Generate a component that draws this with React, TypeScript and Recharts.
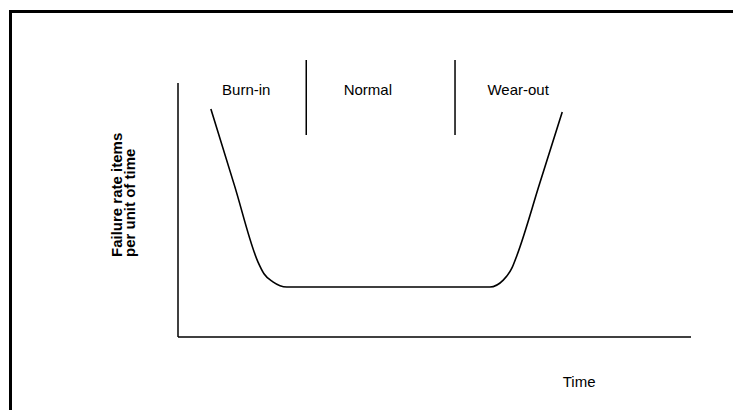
import { LineChart, Line, XAxis, YAxis, ReferenceLine, ReferenceDot } from "recharts";

// bathtub curve (time and rate both on a 0-100 scale)
const TIME = [6.4, 11.0, 15.6, 16.8, 18.5, 21.2, 60.8, 63.4, 65.1, 66.1, 70.5, 74.9];
const FAILURE_RATE = [89.8, 59.7, 29.5, 24.8, 21.7, 19.7, 19.7, 22.4, 27.2, 32.3, 60.4, 88.6];

const PHASES = ["Burn-in", "Normal", "Wear-out"];
const PHASE_CENTERS = [13.3, 37.0, 66.3];
const PHASE_LABEL_Y = 97.4;
const PHASE_BOUNDS = [25, 54];
const BOUND_SPAN = [79.5, 109.1];

const data = TIME.map((t, i) => ({ t, rate: FAILURE_RATE[i] }));

const FONT = '"Liberation Sans", Arial, sans-serif';

function RateLabel({ viewBox }: any) {
  const bx = viewBox.x + viewBox.width - 56;
  const by = viewBox.y + viewBox.height - 80;
  return (
    <text
      transform={`rotate(-90 ${bx} ${by})`}
      x={bx}
      y={by}
      fontFamily={FONT}
      fontSize={15}
      fontWeight="bold"
      fill="#000"
      textAnchor="start"
    >
      <tspan x={bx} y={by}>Failure rate items</tspan>
      <tspan x={bx} dy={13}>per unit of time</tspan>
    </text>
  );
}

function TimeLabel({ viewBox }: any) {
  return (
    <text
      x={viewBox.x + viewBox.width * 0.782}
      y={viewBox.y + 50}
      fontFamily={FONT}
      fontSize={15}
      fill="#000"
      textAnchor="middle"
    >
      Time
    </text>
  );
}

export default function App() {
  return (
    <div style={{ position: "relative", width: 741, height: 410, margin: "-8px 0 0 -8px", background: "#fff" }}>
      <div
        style={{
          position: "absolute",
          left: 9,
          top: 10,
          right: 0,
          bottom: 0,
          borderLeft: "3px solid #000",
          borderTop: "3px solid #000",
        }}
      />
      <LineChart
        width={741}
        height={410}
        data={data}
        margin={{ top: 83, right: 50, bottom: 43, left: 118 }}
        style={{ position: "absolute", left: 0, top: 0 }}
      >
        <XAxis
          type="number"
          dataKey="t"
          domain={[0, 100]}
          height={30}
          tick={false}
          tickLine={false}
          axisLine={{ stroke: "#000", strokeWidth: 1.5 }}
          label={<TimeLabel />}
        />
        <YAxis
          type="number"
          domain={[0, 100]}
          width={60}
          tick={false}
          tickLine={false}
          axisLine={{ stroke: "#000", strokeWidth: 1.5 }}
          label={<RateLabel />}
        />
        {PHASE_BOUNDS.map((b) => (
          <ReferenceLine
            key={b}
            segment={[
              { x: b, y: BOUND_SPAN[0] },
              { x: b, y: BOUND_SPAN[1] },
            ]}
            ifOverflow="visible"
            stroke="#000"
            strokeWidth={1.5}
          />
        ))}
        {PHASES.map((p, i) => (
          <ReferenceDot
            key={p}
            x={PHASE_CENTERS[i]}
            y={PHASE_LABEL_Y}
            r={0}
            fill="none"
            stroke="none"
            label={{ value: p, position: "center", fill: "#000", fontSize: 15, fontFamily: FONT }}
          />
        ))}
        <Line
          type="monotone"
          dataKey="rate"
          stroke="#000"
          strokeWidth={1.6}
          dot={false}
          isAnimationActive={false}
        />
      </LineChart>
    </div>
  );
}
